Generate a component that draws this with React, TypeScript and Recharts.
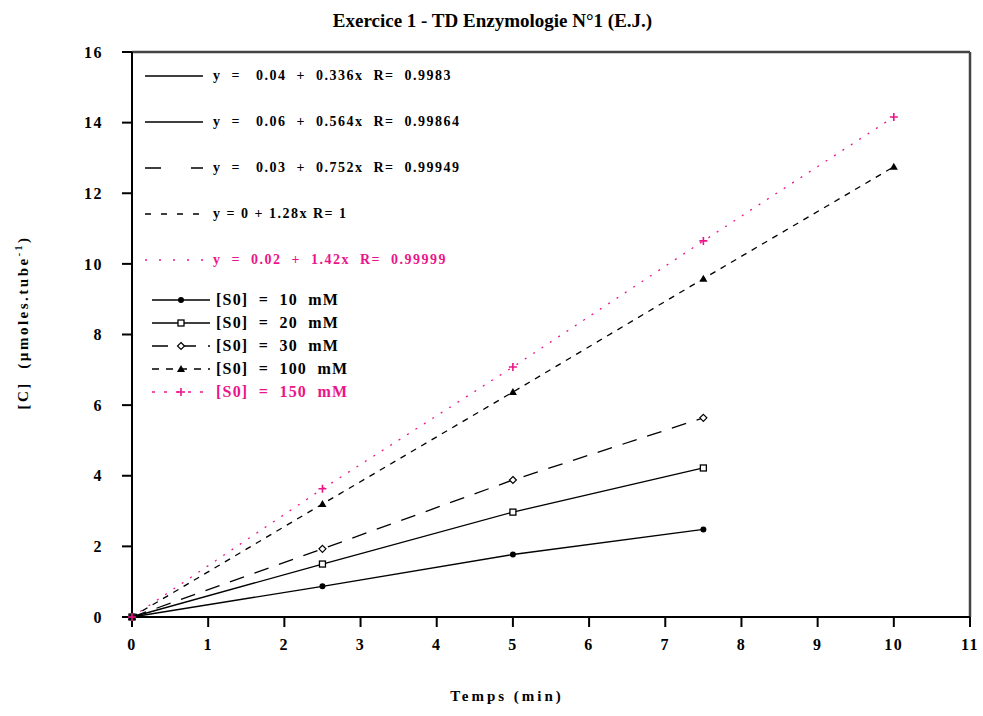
import { LineChart, Line, XAxis, YAxis, Legend, ReferenceLine, Label } from "recharts";

const times = [0, 2.5, 5, 7.5, 10];
const s10 = [0, 0.87, 1.77, 2.48, null];
const s20 = [0, 1.5, 2.97, 4.22, null];
const s30 = [0, 1.93, 3.88, 5.64, null];
const s100 = [0, 3.2, 6.37, 9.58, 12.75];
const s150 = [0, 3.63, 7.08, 10.65, 14.16];

const seriesNames = ["[S0]  =  10  mM", "[S0]  =  20  mM", "[S0]  =  30  mM", "[S0]  =  100  mM", "[S0]  =  150  mM"];
const fitLabels = [
  "y  =   0.04  +  0.336x  R=  0.9983",
  "y  =   0.06  +  0.564x  R=  0.99864",
  "y  =   0.03  +  0.752x  R=  0.99949",
  "y = 0 + 1.28x R= 1",
  "y  =  0.02  +  1.42x  R=  0.99999",
];
const xTicks = [0, 1, 2, 3, 4, 5, 6, 7, 8, 9, 10, 11];
const yTicks = [0, 2, 4, 6, 8, 10, 12, 14, 16];

const PINK = "#ec148a";
const FONT = "'Liberation Serif', 'Times New Roman', serif";

const data = times.map((t, i) => ({ t, s10: s10[i], s20: s20[i], s30: s30[i], s100: s100[i], s150: s150[i] }));

type Shape = "dot" | "square" | "diamond" | "triangle" | "plus";

function Marker({ x, y, shape, color }: { x: number; y: number; shape: Shape; color: string }) {
  if (shape === "dot") return <circle cx={x} cy={y} r={3} fill={color} />;
  if (shape === "square") return <rect x={x - 3} y={y - 3} width={6} height={6} fill="#fff" stroke={color} strokeWidth={1.3} />;
  if (shape === "diamond")
    return <path d={`M${x},${y - 3.5} L${x + 3.5},${y} L${x},${y + 3.5} L${x - 3.5},${y} Z`} fill="#fff" stroke={color} strokeWidth={1.2} />;
  if (shape === "triangle") return <path d={`M${x},${y - 4} L${x + 4},${y + 3} L${x - 4},${y + 3} Z`} fill={color} />;
  return <path d={`M${x - 4},${y} L${x + 4},${y} M${x},${y - 4} L${x},${y + 4}`} stroke={color} strokeWidth={1.6} />;
}

const series = [
  { key: "s10", color: "#000", dash: undefined, legendDash: undefined, shape: "dot" as Shape },
  { key: "s20", color: "#000", dash: undefined, legendDash: undefined, shape: "square" as Shape },
  { key: "s30", color: "#000", dash: "15 11", legendDash: "16 12", shape: "diamond" as Shape },
  { key: "s100", color: "#000", dash: "6 6", legendDash: "7 7", shape: "triangle" as Shape },
  { key: "s150", color: PINK, dash: "2 8", legendDash: "3 9", shape: "plus" as Shape },
];

const fitColors = ["#000", "#000", "#000", "#000", PINK];
const fitDash = [undefined, undefined, "16 30", "6 10", "2 12"];

const textStyle = { fontFamily: FONT, fontWeight: "bold" as const };

function LegendBox() {
  return (
    <div style={{ ...textStyle, position: "relative", width: 380, height: 340 }}>
      {fitLabels.map((lab, i) => (
        <div key={lab} style={{ position: "absolute", left: 0, top: 4 + i * 46, height: 20, display: "flex", alignItems: "center", color: fitColors[i] }}>
          <svg width={66} height={20}>
            <line x1={5} x2={63} y1={10} y2={10} stroke={fitColors[i]} strokeWidth={1.3} strokeDasharray={fitDash[i]} />
          </svg>
          <span style={{ whiteSpace: "pre", fontSize: 14, letterSpacing: 1.5, marginLeft: 7 }}>{lab}</span>
        </div>
      ))}
      {seriesNames.map((name, i) => (
        <div key={name} style={{ position: "absolute", left: 7, top: 228 + i * 23, height: 20, display: "flex", alignItems: "center", color: series[i].color }}>
          <svg width={64} height={20}>
            <line x1={5} x2={63} y1={10} y2={10} stroke={series[i].color} strokeWidth={1.3} strokeDasharray={series[i].legendDash} />
            <Marker x={34} y={10} shape={series[i].shape} color={series[i].color} />
          </svg>
          <span style={{ whiteSpace: "pre", fontSize: 16, letterSpacing: 1.2, marginLeft: 5 }}>{name}</span>
        </div>
      ))}
    </div>
  );
}

const tickStyle = { fill: "#000", fontFamily: FONT, fontWeight: "bold", fontSize: 16, letterSpacing: 1.5 };

export default function App() {
  return (
    <div style={{ position: "absolute", left: 0, top: 0, width: 983, height: 716, background: "#fff" }}>
      <div style={{ position: "absolute", top: 10, left: 0, width: 983, textAlign: "center", fontFamily: FONT, fontSize: 19, fontWeight: "bold", transform: "translateX(1px)" }}>
        Exercice 1 - TD Enzymologie N°1 (E.J.)
      </div>
      <LineChart width={983} height={716} data={data} margin={{ top: 52, right: 13, bottom: 9, left: 72 }}>
        <XAxis
          dataKey="t"
          type="number"
          domain={[0, 11]}
          ticks={xTicks}
          interval={0}
          height={90}
          tickSize={10}
          tickMargin={12}
          stroke="#000"
          strokeWidth={2}
          tick={tickStyle}
        >
          <Label value="Temps  (min)" position="insideBottom" offset={6} dx={-44} style={{ ...textStyle, fontSize: 15, letterSpacing: 3, fill: "#000", whiteSpace: "pre" }} />
        </XAxis>
        <YAxis
          type="number"
          domain={[0, 16]}
          ticks={yTicks}
          interval={0}
          width={60}
          tickSize={10}
          tickMargin={19}
          stroke="#000"
          strokeWidth={2}
          tick={tickStyle}
        >
          <Label
            content={({ viewBox }: any) => {
              const x = viewBox.x - 44;
              const y = viewBox.y + viewBox.height / 2 - 12;
              return (
                <text x={x} y={y} transform={`rotate(-90, ${x}, ${y})`} textAnchor="middle" fontFamily={FONT} fontWeight="bold" fontSize={15} letterSpacing={2.5} fill="#000" style={{ whiteSpace: "pre" }}>
                  [C]  (µmoles.tube<tspan dy={-6} fontSize={10}>-1</tspan><tspan dy={6}>)</tspan>
                </text>
              );
            }}
          />
        </YAxis>
        <ReferenceLine y={16} stroke="#444" strokeWidth={2.5} />
        <ReferenceLine x={11} stroke="#444" strokeWidth={2.5} />
        {series.map((s) => (
          <Line
            key={s.key}
            dataKey={s.key}
            stroke={s.color}
            strokeWidth={1.3}
            strokeDasharray={s.dash}
            type="linear"
            connectNulls={false}
            isAnimationActive={false}
            activeDot={false}
            dot={(p: any) =>
              p.cy == null || p.value == null ? <g key={p.index} /> : (
                <g key={p.index}>
                  <Marker x={p.cx} y={p.cy} shape={s.shape} color={s.color} />
                </g>
              )
            }
          />
        ))}
        <Legend
          layout="horizontal"
          verticalAlign="middle"
          align="center"
          content={() => <LegendBox />}
          wrapperStyle={{ left: 140, top: 62, width: 380, height: 340 }}
        />
      </LineChart>
    </div>
  );
}
